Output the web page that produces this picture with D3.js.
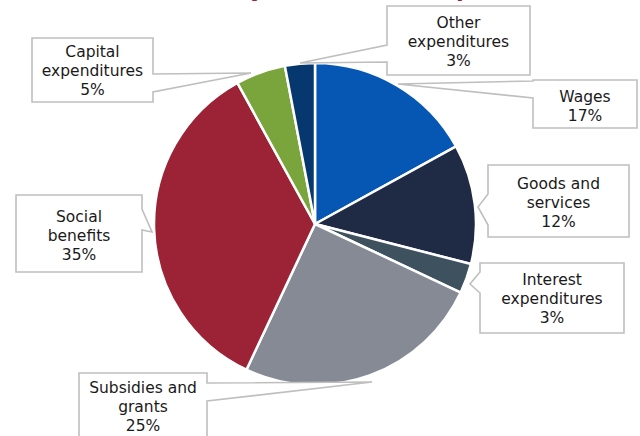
<!DOCTYPE html>
<html>
<head>
<meta charset="utf-8">
<script src="https://cdn.jsdelivr.net/npm/d3@7"></script>
<style>
  html, body { margin: 0; padding: 0; background: #fff; }
  svg { display: block; }
</style>
</head>
<body>
<svg width="640" height="436"></svg>
<script>
// data
const categories = ['Wages', 'Goods and services', 'Interest expenditures', 'Subsidies and grants',
                    'Social benefits', 'Capital expenditures', 'Other expenditures']
const shares = [17, 12, 3, 25, 35, 5, 3]
const labelLines = [
  ['Wages'],
  ['Goods and', 'services'],
  ['Interest', 'expenditures'],
  ['Subsidies and', 'grants'],
  ['Social', 'benefits'],
  ['Capital', 'expenditures'],
  ['Other', 'expenditures']
]
const colors = ['#0656b4', '#1f2a45', '#3e515f', '#858a94', '#9c2335', '#7aa43c', '#06386f']
const titleText = 'Total Costs by Economic Composition'

const svg = d3.select('svg')

// title mostly sits above the top edge, only descenders show
const title = svg.append('text')
  .text(titleText)
  .attr('font-family', 'DejaVu Sans, Verdana, sans-serif')
  .attr('font-weight', 'bold')
  .attr('font-size', 20)
  .attr('fill', '#a3223a')
  .attr('y', -4)
  .attr('x', 0)
const tn = title.node()
const iy = titleText.indexOf('y'), ip = titleText.indexOf('p')
let d = tn.getStartPositionOfChar(ip).x - tn.getStartPositionOfChar(iy).x
const fs = 20 * 206 / d
title.attr('font-size', fs)
title.attr('x', 250 - tn.getStartPositionOfChar(iy).x)

// pie
const cx = 315, cy = 224, r = 161
const pie = d3.pie().sort(null).value(d => d)
const arc = d3.arc().innerRadius(0).outerRadius(r)
const slices = pie(shares)

const g = svg.append('g').attr('transform', `translate(${cx},${cy})`)
g.selectAll('path').data(slices)
  .enter().append('path')
    .attr('d', arc)
    .attr('fill', (d, i) => colors[i])
    .attr('stroke', '#fff')
    .attr('stroke-width', 2.5)
    .attr('stroke-linejoin', 'round')

// callout boxes: box, tip of wedge, side of the wedge base and its two y's
const callouts = [
  { box: [533, 80, 104, 48], tip: [398, 84], side: 'left', base: [81, 98], line0: 102 },
  { box: [488, 165, 141, 72], tip: [478, 207], side: 'left', base: [194, 225], line0: 189 },
  { box: [480, 263, 144, 70], tip: [470, 284], side: 'left', base: [272, 293], line0: 285 },
  { box: [79, 373, 128, 80], tip: [372, 382], side: 'right', base: [383, 401], line0: 393 },
  { box: [16, 195, 126, 77], tip: [152, 232], side: 'right', base: [209, 230], line0: 222 },
  { box: [32, 38, 121, 64], tip: [251, 73], side: 'right', base: [74, 92], line0: 57 },
  { box: [387, 6, 143, 69], tip: [300, 63], side: 'left', base: [45, 62], line0: 28 }
]

const calloutPath = c => {
  const [x, y, w, h] = c.box
  const [tx, ty] = c.tip
  const [b1, b2] = c.base
  if (c.side === 'left') {
    return `M${x},${y}H${x + w}V${y + h}H${x}V${b2}L${tx},${ty}L${x},${b1}Z`
  }
  return `M${x},${y}H${x + w}V${b1}L${tx},${ty}L${x + w},${b2}V${y + h}H${x}Z`
}

const labels = svg.append('g')
categories.forEach((cat, i) => {
  const c = callouts[i]
  labels.append('path')
    .attr('d', calloutPath(c))
    .attr('fill', '#fff')
    .attr('stroke', '#bfbfbf')
    .attr('stroke-width', 1.6)
  const lines = labelLines[i].concat([shares[i] + '%'])
  const t = labels.append('text')
    .attr('font-family', 'DejaVu Sans, Verdana, sans-serif')
    .attr('font-size', 15.5)
    .attr('fill', '#1a1a1a')
    .attr('text-anchor', 'middle')
  lines.forEach((ln, k) => {
    t.append('tspan')
      .attr('x', c.box[0] + c.box[2] / 2)
      .attr('y', c.line0 + k * 19)
      .text(ln)
  })
})
</script>
</body>
</html>
